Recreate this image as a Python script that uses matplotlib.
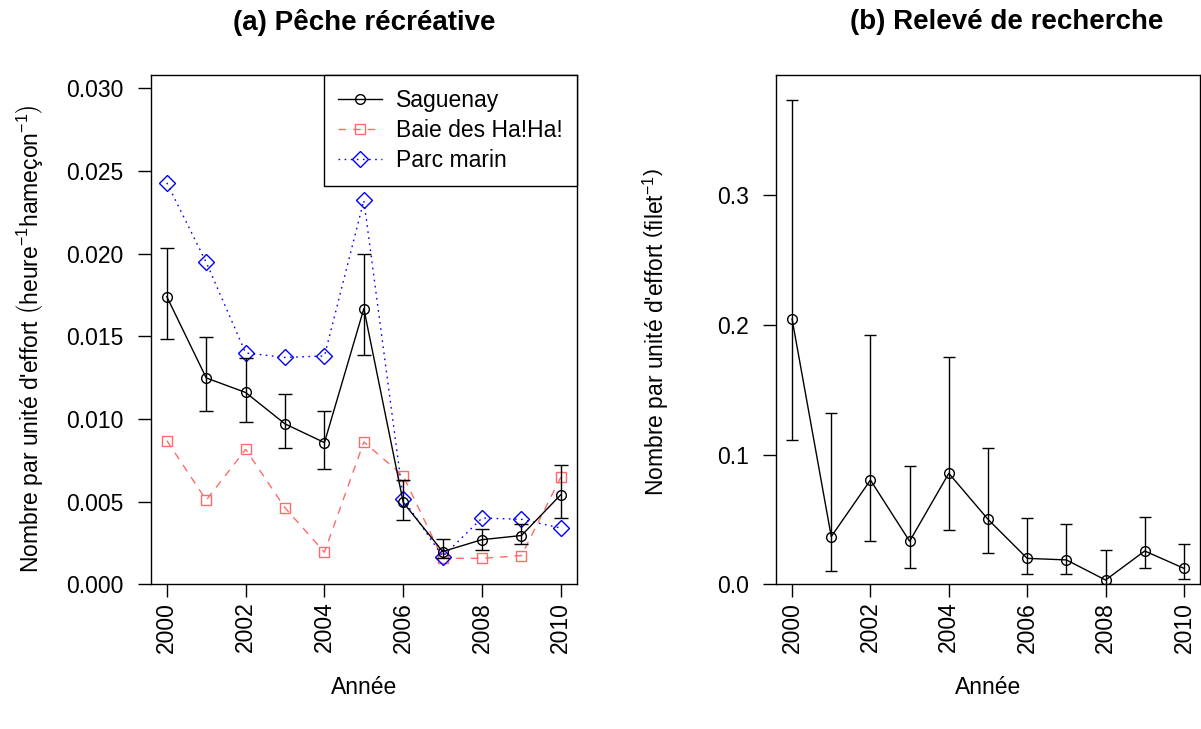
import matplotlib
matplotlib.use("Agg")
import matplotlib.pyplot as plt
import numpy as np

plt.rcParams['font.family'] = ['Liberation Sans', 'DejaVu Sans']
plt.rcParams['mathtext.fontset'] = 'custom'
plt.rcParams['mathtext.rm'] = 'Liberation Sans'
plt.rcParams['mathtext.it'] = 'Liberation Sans:italic'
plt.rcParams['mathtext.bf'] = 'Liberation Sans:bold'

# ---------------- data ----------------
years = [2000, 2001, 2002, 2003, 2004, 2005, 2006, 2007, 2008, 2009, 2010]

saguenay = [0.01739, 0.01248, 0.01160, 0.00970, 0.00857, 0.01667, 0.00495, 0.00198, 0.00270, 0.00295, 0.00542]
saguenay_hi = [0.02033, 0.01493, 0.01370, 0.01150, 0.01047, 0.01998, 0.00628, 0.00276, 0.00337, 0.00362, 0.00724]
saguenay_lo = [0.01483, 0.01047, 0.00980, 0.00822, 0.00700, 0.01389, 0.00387, 0.00157, 0.00209, 0.00243, 0.00403]

baie = [0.00869, 0.00509, 0.00816, 0.00462, 0.00194, 0.00861, 0.00655, 0.00157, 0.00157, 0.00174, 0.00648]
parc = [0.02428, 0.01947, 0.01399, 0.01372, 0.01381, 0.02322, 0.00515, 0.00168, 0.00401, 0.00393, 0.00340]

releve = [0.2046, 0.0368, 0.0804, 0.0332, 0.0856, 0.0501, 0.0200, 0.0188, 0.0033, 0.0257, 0.0123]
releve_hi = [0.3734, 0.1324, 0.1922, 0.0912, 0.1755, 0.1054, 0.0509, 0.0465, 0.0265, 0.0522, 0.0311]
releve_lo = [0.1113, 0.0103, 0.0332, 0.0123, 0.0419, 0.0239, 0.0080, 0.0080, 0.0000, 0.0123, 0.0044]

xticks = [2000, 2002, 2004, 2006, 2008, 2010]
yticks_a = [0.000, 0.005, 0.010, 0.015, 0.020, 0.025, 0.030]
yticks_b = [0.0, 0.1, 0.2, 0.3]

labels = ["Saguenay", "Baie des Ha!Ha!", "Parc marin"]
title_a = "(a) Pêche récréative"
title_b = "(b) Relevé de recherche"
xlabel = "Année"
ylabel_a = "Nombre par unité d'effort " + r"$\left(\mathrm{heure}^{-1}\mathrm{hameçon}^{-1}\right)$"
ylabel_b = "Nombre par unité d'effort " + r"$\left(\mathrm{filet}^{-1}\right)$"

# ---------------- figure ----------------
W, H = 1201, 729
fig = plt.figure(figsize=(W / 100, H / 100), dpi=100)

def px_axes(l, r, t, b):
    return fig.add_axes([l / W, 1 - b / H, (r - l) / W, (b - t) / H])

FS = 16.5
LW = 1.0
pink = '#FF6A6A'
blue = '#0000FF'

axa = px_axes(150.7, 577, 74.7, 584.3)
axb = px_axes(776, 1200, 74.7, 584.3)

# Panel a
axa.plot(years, baie, color=pink, lw=LW, dashes=(5.5, 5), marker='s', ms=7.5,
         mfc='none', mec=pink, mew=LW, label=labels[1], zorder=2)
axa.plot(years, parc, color=blue, lw=LW, dashes=(1.2, 3.2), marker='D', ms=8.2,
         mfc='none', mec=blue, mew=LW, label=labels[2], zorder=2)
s = np.array(saguenay)
axa.errorbar(years, s, yerr=[s - np.array(saguenay_lo), np.array(saguenay_hi) - s],
             fmt='none', ecolor='black', elinewidth=LW, capsize=5, capthick=LW, zorder=3)
axa.plot(years, saguenay, color='black', lw=LW, marker='o', ms=7, mfc='none',
         mec='black', mew=LW, label=labels[0], zorder=4)

axa.set_xlim(1999.59, 2010.41)
axa.set_ylim(0, 0.03082)
axa.set_yticks(yticks_a)
axa.set_yticklabels([f"{v:.3f}" for v in yticks_a])

h, l = axa.get_legend_handles_labels()
order = [2, 0, 1]
leg = axa.legend([h[i] for i in order], [l[i] for i in order], loc='upper right',
                 fontsize=FS, frameon=True, fancybox=False, borderaxespad=0,
                 borderpad=0.62, handlelength=1.9, handletextpad=0.62,
                 labelspacing=0.3, framealpha=1)
leg.get_frame().set_edgecolor('black')
leg.get_frame().set_linewidth(LW)

# Panel b
r = np.array(releve)
axb.errorbar(years, r, yerr=[r - np.array(releve_lo), np.array(releve_hi) - r],
             fmt='none', ecolor='black', elinewidth=LW, capsize=4.3, capthick=LW, zorder=3)
axb.plot(years, releve, color='black', lw=LW, marker='o', ms=7, mfc='none',
         mec='black', mew=LW, zorder=4)
axb.set_xlim(1999.59, 2010.41)
axb.set_ylim(0, 0.393)
axb.set_yticks(yticks_b)
axb.set_yticklabels([f"{v:.1f}" for v in yticks_b])

for ax in (axa, axb):
    ax.set_xticks(xticks)
    ax.set_xticklabels([str(x) for x in xticks], rotation=90)
    ax.tick_params(axis='both', direction='out', length=9.5, width=LW,
                   labelsize=FS, color='black')
    ax.tick_params(axis='y', pad=10)
    ax.tick_params(axis='x', pad=3)
    for sp in ax.spines.values():
        sp.set_linewidth(LW)
        sp.set_color('black')

def ftext(x, y, s, **kw):
    fig.text(x / W, 1 - y / H, s, **kw)

ftext(364, 22, title_a, ha='center', va='center', fontsize=20, fontweight='bold')
ftext(1007, 22, title_b, ha='center', va='center', fontsize=20, fontweight='bold')
ftext(364, 687, xlabel, ha='center', va='center', fontsize=FS)
ftext(988, 687, xlabel, ha='center', va='center', fontsize=FS)
ftext(30, 339, ylabel_a, ha='center', va='center', fontsize=FS, rotation=90)
ftext(656, 332, ylabel_b, ha='center', va='center', fontsize=FS, rotation=90)

fig.savefig("out.png", dpi=100)
